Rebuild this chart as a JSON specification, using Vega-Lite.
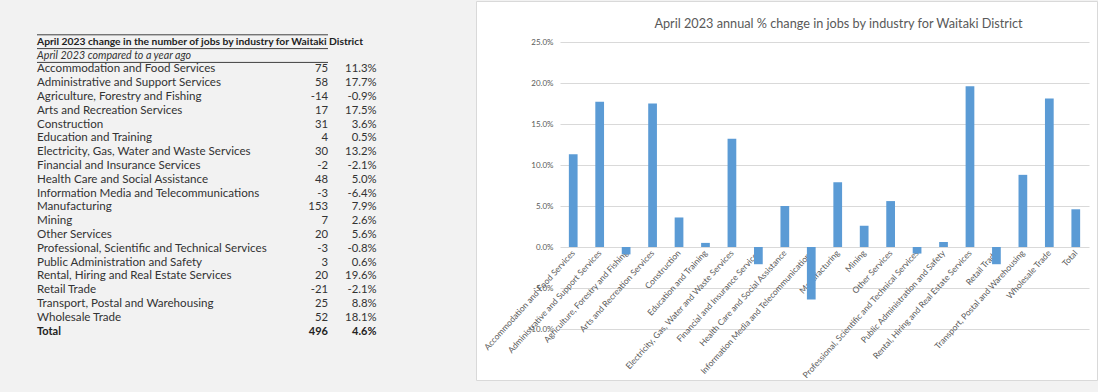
{
  "$schema": "https://vega.github.io/schema/vega-lite/v6.json",
  "background": "#f2f2f2",
  "padding": 0,
  "spacing": 0,
  "config": {
    "view": {"stroke": null},
    "font": "Lato",
    "locale": {"number": {"decimal": ".", "thousands": ",", "grouping": [3], "currency": ["$", ""], "minus": "-"}}
  },
  "datasets": {
    "t": [
      {"label": "April 2023 change in the number of jobs by industry for Waitaki District", "kind": "title", "jobs": null, "pct": null},
      {"label": "April 2023 compared to a year ago", "kind": "subtitle", "jobs": null, "pct": null},
      {"label": "Accommodation and Food Services", "kind": "row", "jobs": 75, "pct": 0.113},
      {"label": "Administrative and Support Services", "kind": "row", "jobs": 58, "pct": 0.177},
      {"label": "Agriculture, Forestry and Fishing", "kind": "row", "jobs": -14, "pct": -0.009},
      {"label": "Arts and Recreation Services", "kind": "row", "jobs": 17, "pct": 0.175},
      {"label": "Construction", "kind": "row", "jobs": 31, "pct": 0.036},
      {"label": "Education and Training", "kind": "row", "jobs": 4, "pct": 0.005},
      {"label": "Electricity, Gas, Water and Waste Services", "kind": "row", "jobs": 30, "pct": 0.132},
      {"label": "Financial and Insurance Services", "kind": "row", "jobs": -2, "pct": -0.021},
      {"label": "Health Care and Social Assistance", "kind": "row", "jobs": 48, "pct": 0.05},
      {"label": "Information Media and Telecommunications", "kind": "row", "jobs": -3, "pct": -0.064},
      {"label": "Manufacturing", "kind": "row", "jobs": 153, "pct": 0.079},
      {"label": "Mining", "kind": "row", "jobs": 7, "pct": 0.026},
      {"label": "Other Services", "kind": "row", "jobs": 20, "pct": 0.056},
      {"label": "Professional, Scientific and Technical Services", "kind": "row", "jobs": -3, "pct": -0.008},
      {"label": "Public Administration and Safety", "kind": "row", "jobs": 3, "pct": 0.006},
      {"label": "Rental, Hiring and Real Estate Services", "kind": "row", "jobs": 20, "pct": 0.196},
      {"label": "Retail Trade", "kind": "row", "jobs": -21, "pct": -0.021},
      {"label": "Transport, Postal and Warehousing", "kind": "row", "jobs": 25, "pct": 0.088},
      {"label": "Wholesale Trade", "kind": "row", "jobs": 52, "pct": 0.181},
      {"label": "Total", "kind": "total", "jobs": 496, "pct": 0.046}
    ]
  },
  "hconcat": [
    {
      "width": 475,
      "height": 392,
      "data": {"name": "t"},
      "encoding": {
        "y": {"field": "label", "type": "nominal", "sort": null, "axis": null,
              "scale": {"type": "band", "range": [33.8, 337.6], "paddingInner": 0, "paddingOuter": 0}}
      },
      "layer": [
        {
          "mark": {"type": "text", "align": "left", "baseline": "middle", "fontSize": 11.6, "color": "#333333"},
          "encoding": {
            "x": {"datum": "name", "type": "nominal", "bandPosition": 0, "axis": null,
                  "scale": {"type": "band", "domain": ["name", "c1", "c2", "c3", "c4", "jobs", "pct"], "range": [37, 376.5], "paddingInner": 0, "paddingOuter": 0}},
            "text": {"condition": {"test": "datum.kind === 'row'", "field": "label"}, "value": ""}
          }
        },
        {
          "mark": {"type": "text", "align": "left", "baseline": "middle", "fontSize": 11, "fontWeight": "bold", "color": "#222222"},
          "encoding": {
            "x": {"datum": "name", "type": "nominal", "bandPosition": 0},
            "text": {"condition": {"test": "datum.kind === 'total'", "field": "label"}, "value": ""}
          }
        },
        {
          "mark": {"type": "text", "align": "left", "baseline": "middle", "fontSize": 10.3, "fontWeight": "bold", "color": "#222222"},
          "encoding": {
            "x": {"datum": "name", "type": "nominal", "bandPosition": 0},
            "text": {"condition": {"test": "datum.kind === 'title'", "field": "label"}, "value": ""}
          }
        },
        {
          "mark": {"type": "text", "align": "left", "baseline": "middle", "fontSize": 10.7, "fontStyle": "italic", "color": "#333333"},
          "encoding": {
            "x": {"datum": "name", "type": "nominal", "bandPosition": 0},
            "text": {"condition": {"test": "datum.kind === 'subtitle'", "field": "label"}, "value": ""}
          }
        },
        {
          "mark": {"type": "text", "align": "right", "baseline": "middle", "fontSize": 11.3, "color": "#333333"},
          "encoding": {
            "x": {"datum": "jobs", "type": "nominal", "bandPosition": 1},
            "text": {"condition": {"test": "datum.kind === 'row'", "field": "jobs", "format": "d"}, "value": ""}
          }
        },
        {
          "mark": {"type": "text", "align": "right", "baseline": "middle", "fontSize": 11, "fontWeight": "bold", "color": "#222222"},
          "encoding": {
            "x": {"datum": "jobs", "type": "nominal", "bandPosition": 1},
            "text": {"condition": {"test": "datum.kind === 'total'", "field": "jobs", "format": "d"}, "value": ""}
          }
        },
        {
          "mark": {"type": "text", "align": "right", "baseline": "middle", "fontSize": 11.3, "color": "#333333"},
          "encoding": {
            "x": {"datum": "pct", "type": "nominal", "bandPosition": 1},
            "text": {"condition": {"test": "datum.kind === 'row'", "field": "pct", "format": ".1%"}, "value": ""}
          }
        },
        {
          "mark": {"type": "text", "align": "right", "baseline": "middle", "fontSize": 11, "fontWeight": "bold", "color": "#222222"},
          "encoding": {
            "x": {"datum": "pct", "type": "nominal", "bandPosition": 1},
            "text": {"condition": {"test": "datum.kind === 'total'", "field": "pct", "format": ".1%"}, "value": ""}
          }
        },
        {
          "mark": {"type": "rule", "color": "#404040", "strokeWidth": 1},
          "encoding": {
            "x": {"datum": "name", "type": "nominal", "bandPosition": 0},
            "x2": {"datum": "jobs", "bandPosition": 1},
            "y": {"field": "label", "type": "nominal", "sort": null, "bandPosition": 0},
            "opacity": {"condition": {"test": "datum.kind === 'title'", "value": 1}, "value": 0}
          }
        },
        {
          "mark": {"type": "rule", "color": "#404040", "strokeWidth": 1},
          "encoding": {
            "x": {"datum": "name", "type": "nominal", "bandPosition": 0},
            "x2": {"datum": "jobs", "bandPosition": 1},
            "y": {"field": "label", "type": "nominal", "sort": null, "bandPosition": 1},
            "opacity": {"condition": {"test": "datum.kind === 'title' || datum.kind === 'subtitle'", "value": 1}, "value": 0}
          }
        }
      ]
    },
    {
      "width": 621,
      "height": 379,
      "view": {"fill": "white", "stroke": "#d9d9d9"},
      "data": {"name": "t"},
      "transform": [{"filter": "datum.kind === 'row' || datum.kind === 'total'"}],
      "title": {
        "text": "April 2023 annual % change in jobs by industry for Waitaki District",
        "anchor": "middle", "frame": "group", "dx": 52, "offset": -30,
        "fontSize": 12.7, "fontWeight": "normal", "color": "#595959", "font": "Lato"
      },
      "mark": {"type": "bar", "color": "#5b9bd5"},
      "encoding": {
        "x": {
          "field": "label", "type": "nominal", "sort": null, "title": null,
          "scale": {"type": "band", "range": [84, 613], "paddingInner": 0.67, "paddingOuter": 0.335},
          "axis": {"orient": "bottom", "offset": -133, "labelAngle": -48, "labelFontSize": 8.5, "labelColor": "#595959",
                   "ticks": false, "domain": false, "labelPadding": 4, "labelLimit": 0, "labelOverlap": false, "grid": false}
        },
        "y": {
          "field": "pct", "type": "quantitative", "title": null,
          "scale": {"domain": [-0.1, 0.25], "range": [328, 41], "nice": false, "zero": true},
          "axis": {"values": [-0.1, -0.05, 0, 0.05, 0.1, 0.15, 0.2, 0.25], "format": ".1%", "offset": -83,
                   "labelFontSize": 8, "labelColor": "#595959", "ticks": false, "domain": false,
                   "gridColor": "#d9d9d9", "labelPadding": 6, "labelFlush": false, "labelOverlap": false}
        }
      }
    }
  ]
}
